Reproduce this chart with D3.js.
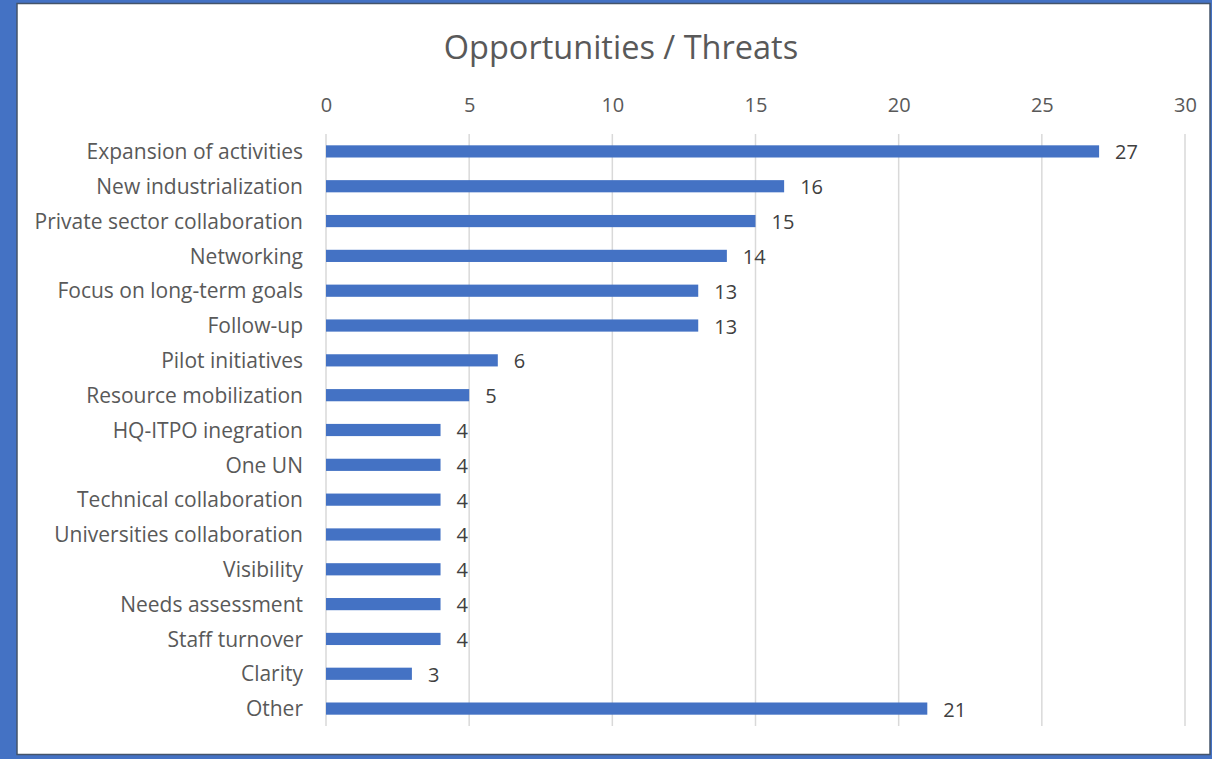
<!DOCTYPE html>
<html>
<head>
<meta charset="utf-8">
<script src="https://cdn.jsdelivr.net/npm/d3@7"></script>
<style>
  html, body { margin: 0; padding: 0; background: #4472C4; }
  svg { display: block; }
</style>
</head>
<body>
<svg id="chart" width="1212" height="759"></svg>
<script>
const categories = [
  "Expansion of activities", "New industrialization", "Private sector collaboration",
  "Networking", "Focus on long-term goals", "Follow-up", "Pilot initiatives",
  "Resource mobilization", "HQ-ITPO inegration", "One UN", "Technical collaboration",
  "Universities collaboration", "Visibility", "Needs assessment", "Staff turnover",
  "Clarity", "Other"
];
const values = [27, 16, 15, 14, 13, 13, 6, 5, 4, 4, 4, 4, 4, 4, 4, 3, 21];
const tickValues = [0, 5, 10, 15, 20, 25, 30];
const title = "Opportunities / Threats";

const svg = d3.select("#chart");
const font = "'Open Sans', 'Noto Sans', sans-serif";

// chart frame: blue surround with a dark rule around the white area
svg.append("rect").attr("x", 0).attr("y", 0).attr("width", 1212).attr("height", 759).attr("fill", "#4472C4");
svg.append("rect").attr("x", 17).attr("y", 3.5).attr("width", 1193).attr("height", 751)
  .attr("fill", "#ffffff").attr("stroke", "#44546A").attr("stroke-width", 1.5);

const x = d3.scaleLinear().domain([0, 30]).range([326, 1185]);
const y = d3.scaleBand().domain(categories).range([134, 726]).paddingInner(0.65).paddingOuter(0.325);

// vertical gridlines
svg.append("g").selectAll("line").data(tickValues).join("line")
  .attr("x1", d => x(d)).attr("x2", d => x(d))
  .attr("y1", 134).attr("y2", 726)
  .attr("stroke", "#d9d9d9").attr("stroke-width", 1.5);

// top axis labels
const xAxis = d3.axisTop(x).tickValues(tickValues).tickSize(0).tickPadding(0);
const gx = svg.append("g").attr("transform", "translate(0,112)").call(xAxis);
gx.select(".domain").remove();
gx.selectAll("text").attr("font-family", font).attr("font-size", 20).attr("fill", "#595959");

// category axis labels
const yAxis = d3.axisLeft(y).tickSize(0).tickPadding(23);
const gy = svg.append("g").attr("transform", "translate(326,1)").call(yAxis);
gy.select(".domain").remove();
gy.selectAll("text").attr("font-family", font).attr("font-size", 21).attr("fill", "#595959");

// bars
svg.append("g").selectAll("rect").data(categories).join("rect")
  .attr("x", x(0))
  .attr("y", d => y(d))
  .attr("width", (d, i) => x(values[i]) - x(0))
  .attr("height", y.bandwidth())
  .attr("fill", "#4472C4");

// value labels
svg.append("g").selectAll("text").data(categories).join("text")
  .attr("x", (d, i) => x(values[i]) + 16)
  .attr("y", d => y(d) + y.bandwidth() / 2 + 1)
  .attr("dy", "0.35em")
  .attr("font-family", font).attr("font-size", 20).attr("fill", "#404040")
  .text((d, i) => values[i]);

// title
svg.append("text").attr("x", 621).attr("y", 48).attr("dy", "0.35em")
  .attr("text-anchor", "middle")
  .attr("font-family", font).attr("font-size", 32.5).attr("fill", "#595959")
  .text(title);
</script>
</body>
</html>
